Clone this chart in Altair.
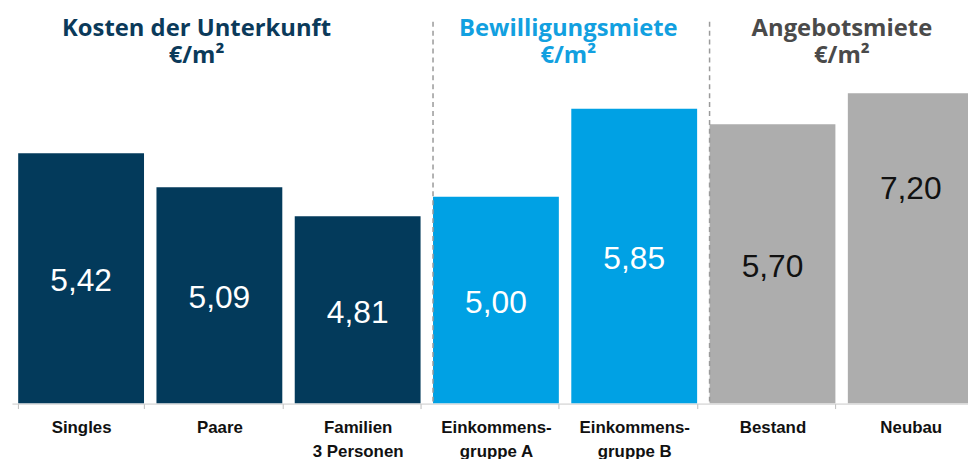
import altair as alt
import pandas as pd

categories = ["Singles", "Paare", "Familien\n3 Personen", "Einkommens-\ngruppe A",
              "Einkommens-\ngruppe B", "Bestand", "Neubau"]
values = [5.42, 5.09, 4.81, 5.00, 5.85, 5.70, 7.20]
groups = ["Kosten", "Kosten", "Kosten", "Bewilligung", "Bewilligung", "Angebot", "Angebot"]

group_keys = ["Kosten", "Bewilligung", "Angebot"]
group_titles = ["Kosten der Unterkunft\n€/m²", "Bewilligungsmiete\n€/m²", "Angebotsmiete\n€/m²"]
title_anchor = ["Paare", "Einkommens-\ngruppe B", "Neubau"]
separator_cats = ["Einkommens-\ngruppe A", "Bestand"]

bar_colors = ["#033a5b", "#00a1e4", "#adadad"]
title_colors = ["#0b3a5a", "#12a0e0", "#4a4a4a"]

y_min, y_max = 3.0, 6.0

df = pd.DataFrame({"cat": categories, "value": values, "group": groups})

x_scale = alt.Scale(domain=categories, range=[0, 976], paddingInner=0.09, paddingOuter=0.045)
y_scale = alt.Scale(domain=[y_min, y_max], zero=False, nice=False)

x_axis = alt.Axis(
    title=None, labelAngle=0, tickBand="extent", tickSize=5, tickColor="#bdbdbd",
    domainColor="#c8c8c8", domainWidth=1, labelFont="Liberation Sans", labelFontWeight="bold",
    labelFontSize=17, labelColor="#111111", labelPadding=11, labelLineHeight=24,
    labelExpr="split(datum.label, '\\n')", labelBaseline="top",
)

bars = alt.Chart(df).mark_bar(clip=True).encode(
    x=alt.X("cat:N", sort=categories, scale=x_scale, axis=x_axis),
    y=alt.Y("value:Q", scale=y_scale, axis=None),
    y2=alt.datum(y_min),
    color=alt.Color("group:N", scale=alt.Scale(domain=group_keys, range=bar_colors), legend=None),
)

labels = alt.Chart(df).transform_calculate(
    mid=f"(datum.value + {y_min}) / 2",
    label="replace(format(datum.value, '.2f'), '.', ',')",
).mark_text(font="Liberation Sans", fontSize=32, baseline="middle", align="center", dy=3).encode(
    x=alt.X("cat:N", sort=categories, scale=x_scale),
    y=alt.Y("mid:Q", scale=y_scale),
    text="label:N",
    color=alt.condition(alt.datum.group == "Angebot", alt.value("#111111"), alt.value("#ffffff")),
)

sep_df = pd.DataFrame({"cat": separator_cats})
separators = alt.Chart(sep_df).mark_rule(strokeDash=[5, 4], color="#9a9a9a", strokeWidth=1.5).encode(
    x=alt.X("cat:N", sort=categories, scale=x_scale, bandPosition=0),
    y=alt.value(-72),
    y2=alt.value(313),
)

title_dx = [-23, -3, -6]
title_layers = []
for i in range(3):
    tdf = pd.DataFrame({"cat": [title_anchor[i]], "t": [group_titles[i]]})
    bp = 0.5 if i == 0 else 0
    title_layers.append(
        alt.Chart(tdf).mark_text(
            font="Open Sans", fontWeight="bold", fontSize=24, lineBreak="\n", lineHeight=28,
            baseline="middle", align="center", color=title_colors[i], dx=title_dx[i],
        ).encode(
            x=alt.X("cat:N", sort=categories, scale=x_scale, bandPosition=bp),
            y=alt.value(-65),
            text="t:N",
        )
    )

chart = alt.layer(bars, labels, separators, *title_layers).properties(
    width=964, height=313,
    autosize=alt.AutoSizeParams(type="none"),
    padding={"left": 4, "top": 84, "right": 0, "bottom": 54},
    background="white",
).configure_view(stroke=None)

chart.save("out.html", embed_options={"renderer": "svg", "actions": False})
